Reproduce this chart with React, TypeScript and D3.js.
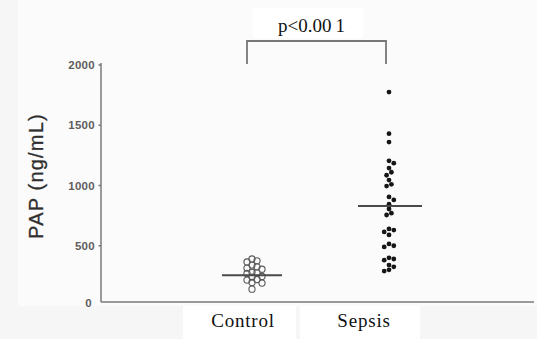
import React from "react";
import * as d3 from "d3";

const categories = ["Control", "Sepsis"];
const controlValues = [390, 375, 365, 340, 325, 315, 305, 280, 275, 270, 245, 240, 220, 215, 195, 190, 140];
const sepsisValues = [1775, 1430, 1360, 1205, 1185, 1145, 1110, 1085, 1045, 1010, 995, 905, 880, 845, 805, 770, 755, 640, 630, 615, 590, 515, 500, 490, 400, 390, 380, 340, 325, 300, 290];
const medianValues = [255, 830];
const yTicks = [0, 500, 1000, 1500, 2000];
const yTitle = "PAP (ng/mL)";
const pText = ["p<0.00", "1"];

const W = 537;
const H = 339;
const AXIS_X = 101;
const AXIS_Y = 302;

const y = d3.scaleLinear().domain([0, 2000]).range([306, 65]);
const x = d3.scalePoint<string>().domain(categories).range([252, 389]);

function dodge(vals: number[], cx: number, minDist: number, step: number) {
  const placed: { v: number; x: number; y: number }[] = [];
  const sorted = vals.map((v) => ({ v, y: y(v) })).sort((a, b) => a.y - b.y);
  for (const p of sorted) {
    for (let k = 0; k < 40; k++) {
      const mag = Math.ceil(k / 2) * step;
      const off = k === 0 ? 0 : k % 2 === 1 ? mag : -mag;
      const px = cx + off;
      const ok = placed.every((q) => Math.hypot(q.x - px, q.y - p.y) >= minDist);
      if (ok) {
        placed.push({ v: p.v, x: px, y: p.y });
        break;
      }
    }
  }
  return placed;
}

export default function App() {
  const ctrl = dodge(controlValues, x("Control")!, 4.4, 2.5);
  const seps = dodge(sepsisValues, x("Sepsis")!, 4.4, 2.4);
  const serif = "'Liberation Serif', 'Times New Roman', serif";
  const sans = "'Liberation Sans', Arial, sans-serif";
  const labelOffsets = [-9, -25];
  const bx1 = x("Control")! - 5;
  const bx2 = x("Sepsis")! - 3;
  return (
    <svg width={W} height={H} style={{ position: "absolute", left: 0, top: 0, display: "block" }}>
      <rect x={0} y={0} width={W} height={H} fill="#f6f6f6" />
      <rect x={18} y={0} width={W - 18} height={AXIS_Y + 4} fill="#fbfbfb" />
      <rect x={253} y={8} width={110} height={30} fill="#ffffff" />
      <rect x={183} y={306} width={113} height={33} fill="#ffffff" />
      <rect x={300} y={306} width={120} height={33} fill="#ffffff" />

      {/* y axis */}
      <line x1={AXIS_X} x2={AXIS_X} y1={y(2000) - 2} y2={AXIS_Y} stroke="#7a7a7a" strokeWidth={1.5} />
      {yTicks.map((t) => (
        <g key={t}>
          {t > 0 && <line x1={AXIS_X - 2.5} x2={AXIS_X} y1={y(t)} y2={y(t)} stroke="#777" strokeWidth={1.5} />}
          <text
            x={t === 0 ? 92 : 95}
            y={y(t) + (t === 0 ? -3 : 0)}
            textAnchor="end"
            dominantBaseline="central"
            fontFamily={sans}
            fontSize={11.5}
            fontWeight={600}
            letterSpacing={0.3}
            fill="#5e5e5e"
          >
            {t}
          </text>
        </g>
      ))}
      {/* x axis */}
      <line x1={AXIS_X} x2={534} y1={AXIS_Y} y2={AXIS_Y} stroke="#7a7a7a" strokeWidth={1.5} />

      <text
        transform={`translate(43,176) rotate(-90)`}
        textAnchor="middle"
        fontFamily={sans}
        fontSize={20}
        letterSpacing={1.2}
        fill="#2e2e2e"
        stroke="#2e2e2e"
        strokeWidth={0.3}
      >
        {yTitle}
      </text>

      {/* bracket */}
      <path
        d={`M${bx1},${64} V${41} H${bx2} V${64}`}
        fill="none"
        stroke="#777"
        strokeWidth={1.8}
      />
      <text x={278} y={32} fontFamily={serif} fontSize={19} fill="#111">
        <tspan>{pText[0]}</tspan>
        <tspan dx={4}>{pText[1]}</tspan>
      </text>

      {/* control points */}
      {ctrl.map((p, i) => (
        <circle key={"c" + i} cx={p.x} cy={p.y} r={3.1} fill="none" stroke="#5a5a5a" strokeWidth={1.1} />
      ))}
      {/* sepsis points */}
      {seps.map((p, i) => (
        <circle key={"s" + i} cx={p.x} cy={p.y} r={2.4} fill="#161616" />
      ))}

      {/* medians */}
      {categories.map((c, i) => (
        <line
          key={"m" + c}
          x1={x(c)! - (i === 0 ? 30 : 31)}
          x2={x(c)! + (i === 0 ? 30 : 33)}
          y1={y(medianValues[i])}
          y2={y(medianValues[i])}
          stroke="#4a4a4a"
          strokeWidth={2}
        />
      ))}

      {/* category labels */}
      {categories.map((c, i) => (
        <text
          key={"l" + c}
          x={x(c)! + labelOffsets[i]}
          y={327}
          textAnchor="middle"
          style={{ fontFamily: serif }}
          fontSize={19}
          letterSpacing={0.8}
          fill="#111"
        >
          {c}
        </text>
      ))}
    </svg>
  );
}
